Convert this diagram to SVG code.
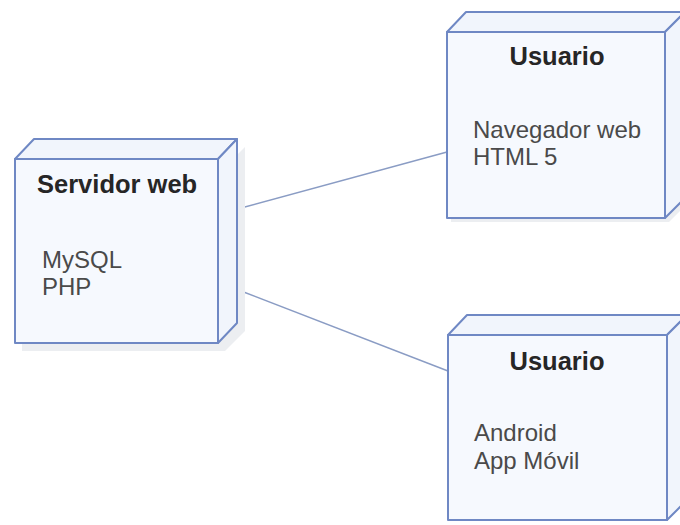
<svg xmlns="http://www.w3.org/2000/svg" width="680" height="525" viewBox="0 0 680 525">
<defs>
<style>
.shadow{fill:#eceef1;stroke:none}
.face{fill:#f6f9fe;stroke:#6f88c4;stroke-width:2;stroke-linejoin:round}
.side{fill:#f1f5fc;stroke:#6f88c4;stroke-width:2;stroke-linejoin:round}
.title{font-family:"Liberation Sans",Arial,sans-serif;font-weight:bold;font-size:25.5px;fill:#262626}
.body{font-family:"Liberation Sans",Arial,sans-serif;font-size:24px;fill:#4a4a4a}
.conn{stroke:#8a9cc4;stroke-width:1.5;fill:none}
</style>
</defs>
<rect width="680" height="525" fill="#ffffff"/>
<g id="connectors">
<line class="conn" x1="241" y1="208" x2="447" y2="152"/>
<line class="conn" x1="241" y1="291" x2="448" y2="371"/>
</g>
<g id="servidor">
<polygon class="shadow" points="19,347 222,347 242,327 242,143 222,163 19,163" transform="translate(3,4)"/>
<polygon class="side" points="15,159 34,139 237,139 218,159"/>
<polygon class="side" points="218,159 237,139 237,323 218,343"/>
<rect class="face" x="15" y="159" width="203" height="184"/>
<text class="title" x="37" y="193">Servidor web</text>
<text class="body" x="42" y="268">MySQL</text>
<text class="body" x="42" y="295">PHP</text>
</g>
<g id="usuario1">
<polygon class="shadow" points="447,218 665,218 685,198 685,12 665,32 447,32" transform="translate(4,4)"/>
<polygon class="side" points="447,32 466,12 685,12 665,32"/>
<polygon class="side" points="665,32 685,12 685,198 665,218"/>
<rect class="face" x="447" y="32" width="218" height="186"/>
<text class="title" x="557" y="65" text-anchor="middle">Usuario</text>
<text class="body" x="473" y="138">Navegador web</text>
<text class="body" x="473" y="165">HTML 5</text>
</g>
<g id="usuario2">
<polygon class="side" points="448,335 467,315 687,315 667,335"/>
<polygon class="side" points="667,335 687,315 687,500 667,520"/>
<rect class="face" x="448" y="335" width="219" height="185"/>
<text class="title" x="557" y="370" text-anchor="middle">Usuario</text>
<text class="body" x="474" y="441">Android</text>
<text class="body" x="474" y="469">App Móvil</text>
</g>
</svg>
